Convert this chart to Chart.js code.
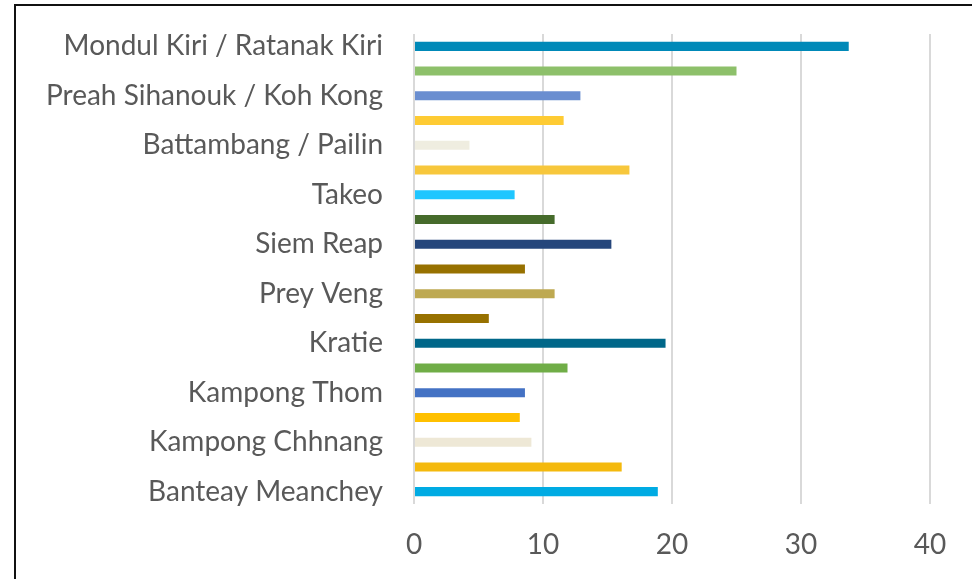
<!DOCTYPE html>
<html>
<head>
<meta charset="utf-8">
<script src="https://cdn.jsdelivr.net/npm/chart.js@4/dist/chart.umd.min.js"></script>
<style>
  html, body { margin: 0; padding: 0; background: #fff; overflow: hidden; }
  #marco {
    position: absolute; left: 14px; top: 4px; width: 1000px; height: 640px;
    border-left: 2px solid #111; border-top: 2px solid #111;
  }
  #zona { position: absolute; left: 0; top: 0; width: 972px; height: 579px; }
</style>
</head>
<body>
<div id="marco"></div>
<div id="zona"><canvas id="grafica" width="972" height="579"></canvas></div>
<script>
// Provincias de abajo hacia arriba (solo se rotulan las pares)
const provincias = [
  'Banteay Meanchey', 'Kampong Cham', 'Kampong Chhnang', 'Kampong Speu',
  'Kampong Thom', 'Kandal', 'Kratie', 'Phnom Penh', 'Prey Veng', 'Pursat',
  'Siem Reap', 'Svay Rieng', 'Takeo', 'Otdar Meanchey', 'Battambang / Pailin',
  'Kampot / Kep', 'Preah Sihanouk / Koh Kong', 'Preah Vihear / Stung Treng',
  'Mondul Kiri / Ratanak Kiri'
];

// valores
const valores = [
  18.9, 16.1, 9.1, 8.2, 8.6, 11.9, 19.5, 5.8, 10.9, 8.6,
  15.3, 10.9, 7.8, 16.7, 4.3, 11.6, 12.9, 25.0, 33.7
];

const colores = [
  '#00ABE3', '#F4B90D', '#EEE8D6', '#FFC000', '#4472C4', '#70AD47', '#006789',
  '#977100', '#BEA951', '#977100', '#25467B', '#466B2B', '#1FC6FF', '#F7C73C',
  '#EFEDE0', '#FECB33', '#6A8ED0', '#8DC06A', '#0089B8'
];

const ticksX = [0, 10, 20, 30, 40];

const fuente = { family: 'Lato, "Open Sans", sans-serif', size: 28 };
const grisTexto = '#595959';

new Chart(document.getElementById('grafica'), {
  type: 'bar',
  data: {
    labels: provincias,
    datasets: [{
      data: valores,
      backgroundColor: colores,
      borderWidth: 0,
      categoryPercentage: 1,
      barPercentage: 0.365
    }]
  },
  options: {
    indexAxis: 'y',
    responsive: false,
    animation: false,
    devicePixelRatio: 1,
    layout: { padding: { top: 34, right: 42, left: 0, bottom: 0 } },
    plugins: { legend: { display: false }, tooltip: { enabled: false } },
    scales: {
      x: {
        min: 0, max: 40,
        afterBuildTicks: (eje) => { eje.ticks = ticksX.map(v => ({ value: v })); },
        grid: { color: '#D9D9D9', lineWidth: 2, drawTicks: false },
        border: { display: false },
        ticks: { color: grisTexto, font: fuente, padding: 24 },
        afterFit: (eje) => { eje.height = 75; eje.paddingLeft = 0; eje.paddingRight = 0; }
      },
      y: {
        reverse: true,
        grid: { display: false, drawTicks: false },
        border: { display: false },
        ticks: {
          color: grisTexto, font: fuente, padding: 31, autoSkip: false,
          callback: function (valor, i) { return i % 2 === 0 ? this.getLabelForValue(valor) : ''; }
        },
        afterFit: (eje) => { eje.width = 414; eje.paddingTop = 0; eje.paddingBottom = 0; }
      }
    }
  }
});
</script>
</body>
</html>
